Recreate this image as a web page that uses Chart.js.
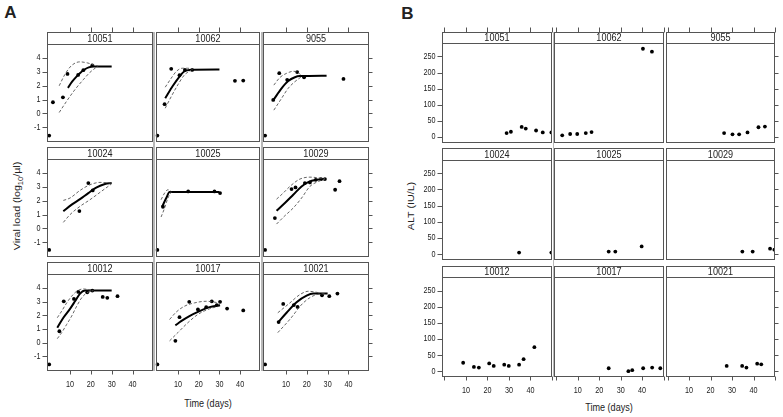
<!DOCTYPE html>
<html lang="en">
<head>
<meta charset="UTF-8">
<title>viral load and ALT</title>
<script src="https://cdn.jsdelivr.net/npm/chart.js@4.4.0/dist/chart.umd.min.js"></script>
<style>
  body { margin: 0; background: #fff; }
  #page { position: relative; width: 783px; height: 417px; overflow: hidden; font-family: "Liberation Sans", Arial, sans-serif; }
  canvas { position: absolute; }
  .lbl { position: absolute; color: #222; white-space: nowrap; line-height: 1; }
  .gap { position: absolute; background: #b8b8b8; }
</style>
</head>
<body>
<div id="page">
  <div class="lbl" style="left:10.5px;top:12px;font-size:17px;font-weight:bold;transform:translate(-50%,-50%)">A</div>
  <div class="lbl" style="left:407.5px;top:12.5px;font-size:17px;font-weight:bold;transform:translate(-50%,-50%)">B</div>
  <div class="lbl" style="left:18px;top:206px;font-size:10.7px;transform:translate(-50%,-50%) rotate(-90deg) scale(1,0.85)">Viral load (log<sub style="font-size:7.5px">10</sub>/µl)</div>
  <div class="lbl" style="left:411px;top:206px;font-size:10.7px;transform:translate(-50%,-50%) rotate(-90deg) scale(1,0.85)">ALT (IU/L)</div>
  <div class="lbl" style="left:208px;top:402.5px;font-size:10.7px;transform:translate(-50%,-50%) scale(0.85,1)">Time (days)</div>
  <div class="lbl" style="left:608.5px;top:407px;font-size:10.7px;transform:translate(-50%,-50%) scale(0.85,1)">Time (days)</div>
</div>
<script>
// subjects, same order in both panels
const ids = ['10051', '10062', '9055', '10024', '10025', '10029', '10012', '10017', '10021'];

// panel A: observed viral load (log10 copies/ul)
const vlDays = [
  [0, 1.8, 6.6, 8.8, 13.9, 16.4, 20.7],
  [0, 3.5, 6.7, 10.7, 13.3, 16.8, 37.5, 41.5],
  [0, 3.9, 6.8, 10.6, 15.4, 18.7, 37.6],
  [0, 14.5, 18.8, 20.9],
  [0, 2.7, 14.9, 27.6, 30.3],
  [0, 4.7, 12.7, 14.6, 19.1, 21.5, 24.3, 26.8, 28.7, 33.6, 35.7],
  [0, 4.9, 7.0, 11.9, 14, 18.3, 20.7, 25.7, 27.9, 32.8],
  [0, 8.7, 10.7, 15.4, 19.6, 23.6, 26.3, 28.7, 30.3, 33.7, 41.5],
  [0, 6.5, 8.7, 13.8, 15.6, 27.3, 30.8, 34.7]
];
const vlLog = [
  [-1.6, 0.81, 1.17, 2.86, 2.79, 3.13, 3.47],
  [-1.6, 0.67, 3.23, 2.77, 3.15, 3.15, 2.36, 2.38],
  [-1.6, 0.98, 2.91, 2.43, 2.99, 2.62, 2.5],
  [-1.55, 1.26, 3.28, 2.75],
  [-1.55, 1.57, 2.68, 2.68, 2.56],
  [-1.55, 0.75, 2.85, 2.97, 3.28, 3.33, 3.52, 3.57, 3.57, 2.8, 3.42],
  [-1.58, 0.84, 3.03, 3.2, 3.71, 3.69, 3.81, 3.35, 3.28, 3.4],
  [-1.58, 0.14, 1.87, 2.99, 2.43, 2.6, 3.03, 2.75, 2.99, 2.5, 2.36],
  [-1.58, 1.51, 2.84, 2.75, 2.62, 3.47, 3.4, 3.59]
];

// model fit (solid) and its band (dashed)
const fitDays = [
  [9, 11, 13, 15, 17, 19, 21, 30],
  [3.8, 7.5, 10.7, 13.1, 15.5, 30],
  [4.2, 7.9, 11.1, 14.3, 16.7, 29.5],
  [6.8, 10.8, 14.8, 18.8, 22.8, 26.8, 30],
  [2.4, 4.3, 5.9, 30],
  [5.5, 9.5, 13.5, 17.5, 20.7, 24.7, 28.7],
  [3.9, 6.8, 10, 12.4, 14.8, 17.2, 30],
  [8.7, 11.5, 15.5, 20.4, 25.2, 30.3],
  [6.1, 10.3, 15.1, 19.9, 23.1, 30]
];
const fitLog = [
  [1.85, 2.3, 2.65, 2.95, 3.18, 3.33, 3.4, 3.4],
  [1.1, 2.0, 2.67, 3.05, 3.15, 3.17],
  [1.02, 1.82, 2.35, 2.62, 2.7, 2.73],
  [1.24, 1.72, 2.12, 2.56, 2.97, 3.21, 3.28],
  [1.6, 2.2, 2.63, 2.63],
  [1.28, 1.84, 2.44, 3.04, 3.35, 3.52, 3.57],
  [1.1, 1.83, 2.48, 3.03, 3.59, 3.81, 3.81],
  [1.27, 1.58, 1.95, 2.31, 2.6, 2.74],
  [1.46, 2.19, 2.96, 3.44, 3.59, 3.59]
];
const upDays = [
  [4.8, 7.5, 10.7, 14.7, 18.2, 21.9, 23.5],
  [3.8, 6.7, 9.1, 12, 14.7, 17.1],
  [4.2, 7.1, 10.3, 13.5, 15.9, 17.5],
  [6.8, 10, 14.8, 19.6, 24.4, 30],
  [1.8, 3.5, 5.1, 6.7],
  [5.5, 8.7, 11.9, 16.7, 21.5, 28.7],
  [3.9, 6, 8.4, 10.8, 13.2, 16.4, 20.4],
  [5.9, 9.1, 13.1, 17.9, 23.6, 30],
  [6.1, 11.9, 16.7, 20.8, 26.4]
];
const upLog = [
  [2.0, 2.81, 3.46, 3.73, 3.66, 3.49, 3.42],
  [1.9, 2.55, 3.03, 3.27, 3.27, 3.2],
  [2.05, 2.6, 2.9, 3.05, 2.95, 2.73],
  [2.03, 2.2, 2.75, 3.16, 3.33, 3.28],
  [2.08, 2.56, 2.8, 2.68],
  [2.12, 2.56, 3.04, 3.57, 3.71, 3.6],
  [1.83, 2.31, 2.91, 3.4, 3.76, 3.93, 3.83],
  [1.7, 2.24, 2.67, 2.91, 3.03, 2.91],
  [2.19, 2.91, 3.52, 3.76, 3.64]
];
const loDays = [
  [4.8, 8.3, 12.3, 16.3, 19.5, 22.7],
  [3.8, 6.7, 9.9, 13.1, 16.3],
  [4.2, 7.9, 11.1, 14.3, 17.5],
  [6.8, 10, 14.8, 19.6, 24.4, 30],
  [1.8, 3.5, 5.1, 6.7],
  [5.5, 9.5, 13.5, 17.5, 21.5, 25.6, 28.7],
  [3.9, 6, 8.4, 10.8, 13.2, 15.6, 18, 21.2],
  [5.9, 9.9, 14.7, 19.6, 25.2, 30],
  [6.1, 11.9, 18.3, 24.7, 29.5]
];
const loLog = [
  [0.07, 0.87, 1.71, 2.43, 2.96, 3.35],
  [0.38, 1.22, 2.07, 2.79, 3.13],
  [0.24, 1.09, 1.82, 2.3, 2.66],
  [0.44, 1.0, 1.6, 2.08, 2.61, 3.23],
  [0.83, 1.48, 2.2, 2.63],
  [0.32, 0.92, 1.48, 2.2, 3.04, 3.4, 3.57],
  [0.3, 0.74, 1.34, 1.95, 2.67, 3.28, 3.64, 3.81],
  [0.14, 0.74, 1.46, 2.07, 2.48, 2.67],
  [0.74, 1.71, 2.91, 3.52, 3.59]
];

// panel B: ALT (IU/L)
const altDays = [
  [28.9, 30.9, 35.9, 37.8, 42.6, 45.7, 49.7],
  [2.7, 6.4, 9.7, 13.7, 16.4, 40.4, 44.6],
  [26.3, 30.2, 33.3, 37.2, 42.3, 45.3],
  [34.7, 49.7],
  [24.4, 27.5, 39.8],
  [34.8, 39.6, 47.7, 49.7],
  [8.7, 13.7, 16.0, 20.8, 22.9, 27.8, 29.9, 34.7, 36.8, 41.8],
  [24.4, 33.6, 35.4, 40.5, 44.7, 48.5],
  [27.5, 34.7, 36.7, 41.7, 43.6]
];
const altVals = [
  [12, 16, 31, 26, 20, 14, 14],
  [5, 9, 9, 12, 15, 274, 265],
  [12, 8, 8, 14, 30, 32],
  [5, 5],
  [8, 8, 24],
  [8, 8, 17, 14],
  [27, 14, 12, 25, 17, 21, 17, 21, 38, 75],
  [10, 1, 4, 10, 12, 10],
  [17, 17, 12, 24, 22]
];

// axis ticks
const xTicksA = [10, 20, 30, 40];
const yTicksA = [-1, 0, 1, 2, 3, 4];
const xTicksB = [0, 10, 20, 30, 40, 50];
const xLabelsB = [10, 20, 30, 40];
const yTicksB = [0, 50, 100, 150, 200, 250];

// panel layout (px): columns [left,right], rows [stripTop, plotTop, plotBottom]
const colsA = [[47.3, 152.5], [155.5, 260], [263.2, 368.5]];
const rowsA = [[32.3, 44.3, 141.7], [147.3, 159.3, 256.7], [261.7, 274.3, 370.7]];
const colsB = [[442.3, 552], [554.3, 663.5], [665.5, 775]];
const rowsB = [[32.3, 43.3, 142.7], [148.3, 160, 260], [266, 277.3, 377.3]];

const pts = (xs, ys) => xs.map((x, i) => ({ x: x, y: ys[i] }));
const page = document.getElementById('page');

const latticePlugin = {
  id: 'lattice',
  afterDatasetsDraw(chart) {
    const o = chart.options.plugins.lattice;
    const ctx = chart.ctx, a = chart.chartArea;
    const xs = chart.scales.x, ys = chart.scales.y;
    const L = Math.round(a.left) + 0.5, R = Math.round(a.right) - 0.5;
    const T = Math.round(a.top) + 0.5, B = Math.round(a.bottom) - 0.5;
    const S = Math.round(a.top - o.stripH) + 0.5;
    ctx.save();
    ctx.strokeStyle = '#555';
    ctx.lineWidth = 1;
    ctx.strokeRect(L, T, R - L, B - T);
    ctx.strokeRect(L, S, R - L, T - S);
    ctx.fillStyle = '#222';
    ctx.textBaseline = 'middle';
    const txt = (s, x, y, size, align) => {
      ctx.save();
      ctx.font = size + 'px "Liberation Sans", Arial, sans-serif';
      ctx.translate(x, y);
      ctx.scale(0.85, 1);
      ctx.textAlign = align;
      ctx.fillText(s, 0, 0);
      ctx.restore();
    };
    txt(o.title, (L + R) / 2, (S + T) / 2 + 0.5, 10.7, 'center');
    ctx.beginPath();
    o.yTicks.forEach(v => {
      const py = Math.round(ys.getPixelForValue(v)) + 0.5;
      if (o.left) { ctx.moveTo(L - 5, py); ctx.lineTo(L, py); }
      if (o.right) { ctx.moveTo(R, py); ctx.lineTo(R + 4, py); }
    });
    o.xTicks.forEach(v => {
      const px = Math.round(xs.getPixelForValue(v)) + 0.5;
      if (o.top) { ctx.moveTo(px, S - 5); ctx.lineTo(px, S); }
      if (o.bottom) { ctx.moveTo(px, B); ctx.lineTo(px, B + 4); }
    });
    ctx.stroke();
    if (o.left) o.yTicks.forEach(v => txt(String(v), L - 7, ys.getPixelForValue(v), 8.5, 'right'));
    if (o.bottom) o.xLabels.forEach(v => txt(String(v), xs.getPixelForValue(v), B + 14, 8.5, 'center'));
    ctx.restore();
  }
};

function gap(x1, x2, y1, y2) {
  const d = document.createElement('div');
  d.className = 'gap';
  d.style.left = x1 + 'px'; d.style.top = y1 + 'px';
  d.style.width = (x2 - x1) + 'px'; d.style.height = (y2 - y1) + 'px';
  page.appendChild(d);
}
gap(153, 155, 32, 371);
gap(260.5, 262.7, 32, 371);
gap(552.5, 554, 32, 377);

function panel(col, row, r, c, datasets, xr, yr, ticks) {
  const cl = Math.floor(col[0] - 42), ct = Math.floor(row[0] - 7);
  const cw = Math.ceil(col[1] + 12) - cl, ch = Math.ceil(row[2] + 22) - ct;
  const cv = document.createElement('canvas');
  cv.width = cw; cv.height = ch;
  cv.style.left = cl + 'px'; cv.style.top = ct + 'px';
  cv.style.width = cw + 'px'; cv.style.height = ch + 'px';
  page.appendChild(cv);
  new Chart(cv, {
    type: 'scatter',
    data: { datasets: datasets },
    options: {
      responsive: false,
      animation: false,
      devicePixelRatio: 1,
      layout: { padding: { left: col[0] - cl, right: cl + cw - col[1], top: row[1] - ct, bottom: ct + ch - row[2] } },
      scales: {
        x: { type: 'linear', min: xr[0], max: xr[1], display: false },
        y: { type: 'linear', min: yr[0], max: yr[1], display: false }
      },
      plugins: {
        legend: { display: false },
        tooltip: { enabled: false },
        lattice: {
          title: ids[r * 3 + c], stripH: row[1] - row[0],
          left: c === 0, right: c === 2, top: r === 0, bottom: r === 2,
          xTicks: ticks.x, xLabels: ticks.xl, yTicks: ticks.y
        }
      }
    },
    plugins: [latticePlugin]
  });
}

const dot = { showLine: false, pointRadius: 1.9, pointBackgroundColor: '#000', pointBorderWidth: 0, clip: 0 };
const line = { showLine: true, pointRadius: 0, cubicInterpolationMode: 'monotone', clip: 0 };

for (let r = 0; r < 3; r++) {
  for (let c = 0; c < 3; c++) {
    const i = r * 3 + c;
    panel(colsA[c], rowsA[r], r, c, [
      Object.assign({ data: pts(upDays[i], upLog[i]), borderColor: '#555', borderWidth: 0.9, borderDash: [3, 2] }, line),
      Object.assign({ data: pts(loDays[i], loLog[i]), borderColor: '#555', borderWidth: 0.9, borderDash: [3, 2] }, line),
      Object.assign({ data: pts(fitDays[i], fitLog[i]), borderColor: '#000', borderWidth: 2 }, line),
      Object.assign({ data: pts(vlDays[i], vlLog[i]) }, dot)
    ], [-0.9, 49.6], [-2.04, 5.0], { x: xTicksA, xl: xTicksA, y: yTicksA });

    panel(colsB[c], rowsB[r], r, c, [
      Object.assign({ data: pts(altDays[i], altVals[i]) }, dot)
    ], [-1, 50], [-18, 291], { x: xTicksB, xl: xLabelsB, y: yTicksB });
  }
}
</script>
</body>
</html>
